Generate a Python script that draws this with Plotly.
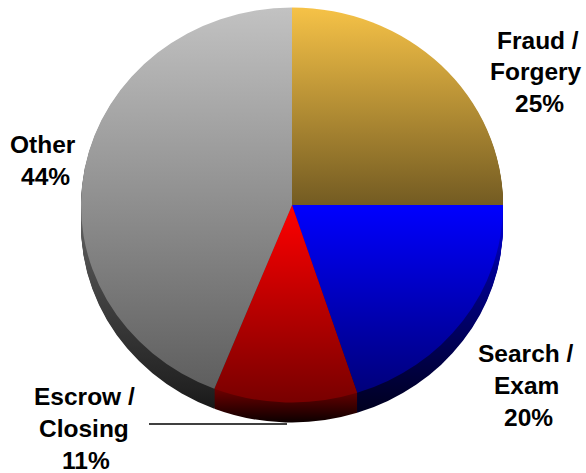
import json
import plotly.graph_objects as go

categories = ["Fraud / Forgery", "Search / Exam", "Escrow / Closing", "Other"]
values = [25, 20, 11, 44]
face_top = ["#F6C247", "#0000FF", "#FF0000", "#C2C2C2"]
face_bottom = ["#735B22", "#00007A", "#780000", "#5E5E5E"]
# wall colours by picture height (y pixel, colour)
side_stops = [
    [[205, "#735B22"], [230, "#735B22"]],
    [[225, "#0000C8"], [270, "#000090"], [330, "#000060"], [400, "#000028"], [423, "#000018"]],
    [[385, "#7A0000"], [423, "#0A0000"]],
    [[225, "#5C5C5C"], [300, "#404040"], [390, "#222222"], [423, "#101010"]],
]
label_lines = [
    ("Fraud /", 538, 41), ("Forgery", 536, 72), ("25%", 539, 103),
    ("Search /", 526, 353), ("Exam", 526, 385), ("20%", 528, 417),
    ("Escrow /", 84, 396), ("Closing", 84, 428), ("11%", 86, 460),
    ("Other", 43, 144), ("44%", 45, 176),
]

W, H = 586, 473
RX = 211
RY = 197.5
CX, CY = 292, 205
DEPTH = 20
LAYERS = 21  # one-pixel extrusion layers, last one is the top face

fig = go.Figure()
dom_x = [(CX - RX) / W, (CX + RX) / W]
for _ in range(LAYERS):
    fig.add_trace(go.Pie(
        labels=categories, values=values, sort=False, direction="clockwise",
        rotation=0, textinfo="none", hoverinfo="skip", showlegend=False,
        domain=dict(x=dom_x, y=[0, 1]),
        marker=dict(colors=face_bottom, line=dict(width=0)),
    ))

for text, x, y in label_lines:
    fig.add_annotation(
        text=text, x=x / W, y=1 - y / H, xref="paper", yref="paper",
        xanchor="center", yanchor="middle", showarrow=False,
        font=dict(family="Liberation Sans", size=24.5, color="#000000", weight="bold"),
    )

fig.add_shape(type="line", xref="paper", yref="paper",
              x0=149 / W, x1=287 / W, y0=1 - 424 / H, y1=1 - 424 / H,
              line=dict(color="#000000", width=1.5))

fig.update_layout(
    width=W, height=H, margin=dict(l=0, r=0, t=0, b=0),
    paper_bgcolor="#FFFFFF", plot_bgcolor="#FFFFFF",
)

post = """
document.body.style.margin = '0';
var gd = document.getElementById('{plot_id}');
var faceTop = %s, faceBottom = %s, side = %s;
var CX = %f, CY = %f, K = %f, DEPTH = %f, H = %f;
var ns = 'http://www.w3.org/2000/svg';
function mk(defs, id, stops, y1, y2, user) {
  var g = document.createElementNS(ns, 'linearGradient');
  g.id = id;
  if (user) g.setAttribute('gradientUnits', 'userSpaceOnUse');
  g.setAttribute('x1', '0'); g.setAttribute('x2', '0');
  g.setAttribute('y1', y1); g.setAttribute('y2', y2);
  stops.forEach(function (s) {
    var st = document.createElementNS(ns, 'stop');
    st.setAttribute('offset', s[0]);
    st.setAttribute('stop-color', s[1]);
    g.appendChild(st);
  });
  defs.appendChild(g);
}
function apply() {
  var svg = gd.querySelector('svg.main-svg');
  var old = document.getElementById('pie-grads');
  if (old) old.remove();
  var defs = document.createElementNS(ns, 'defs');
  defs.id = 'pie-grads';
  svg.insertBefore(defs, svg.firstChild);
  faceTop.forEach(function (c, i) {
    mk(defs, 'face' + i, [[0, c], [1, faceBottom[i]]], 0, 1, false);
  });
  var traces = gd.querySelectorAll('.pielayer .trace');
  var last = traces.length - 1;
  traces.forEach(function (tr, t) {
    var dy = DEPTH * (last - t) / last;
    tr.setAttribute('transform', 'translate(' + CX + ',' + (CY + dy) + ') scale(1,' + K + ') translate(' + (-CX) + ',' + (-H / 2) + ')');
    tr.querySelectorAll('.slice path.surface').forEach(function (p, i) {
      if (t === last) {
        p.style.setProperty('fill', 'url(#face' + i + ')');
        return;
      }
      var m = p.getCTM();
      var s = side[i], y0 = s[0][0], yn = s[s.length - 1][0];
      var stops = s.map(function (q) { return [(q[0] - y0) / (yn - y0), q[1]]; });
      var id = 'side' + t + '_' + i;
      mk(defs, id, stops, (y0 - m.f) / m.d, (yn - m.f) / m.d, true);
      p.style.setProperty('fill', 'url(#' + id + ')');
    });
  });
}
apply();
gd.on('plotly_afterplot', apply);
""" % (json.dumps(face_top), json.dumps(face_bottom), json.dumps(side_stops), CX, CY, RY / RX, DEPTH, H)

fig.write_html("out.html", post_script=post, config={"displayModeBar": False})
